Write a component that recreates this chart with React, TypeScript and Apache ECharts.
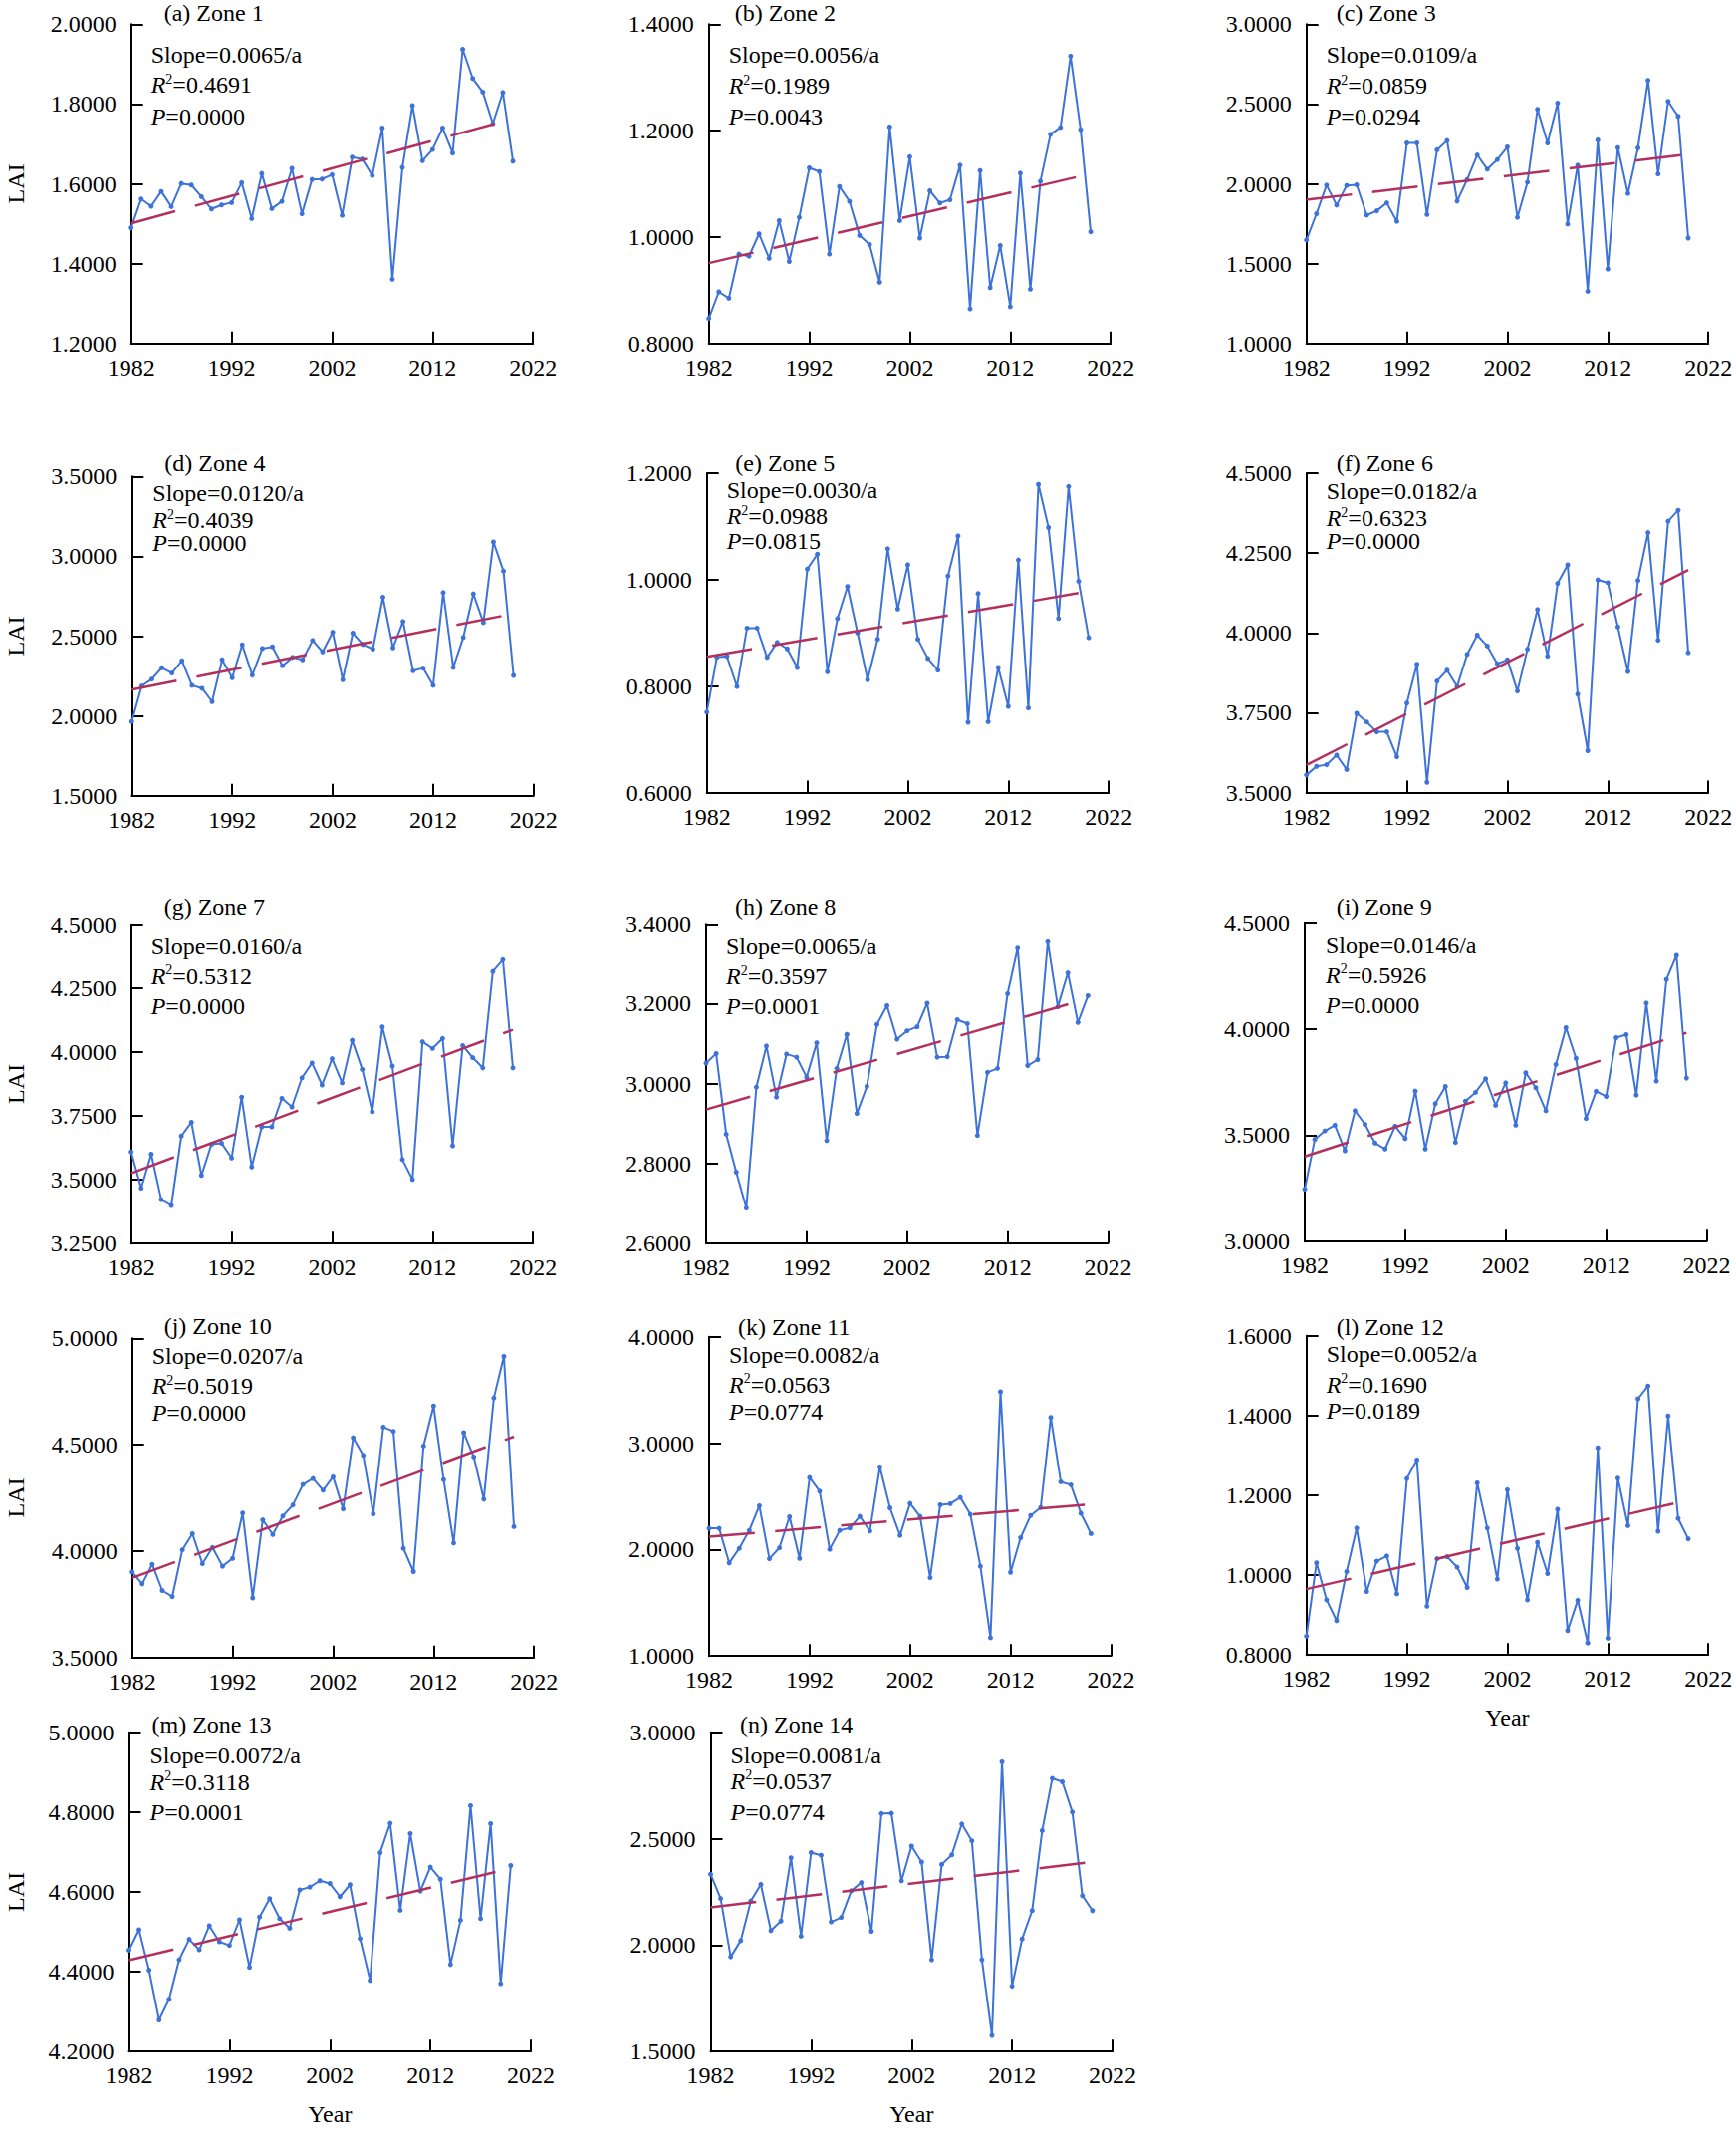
import React, { useEffect, useRef } from "react";
import * as echarts from "echarts";

// ---------------- data ----------------
const YEARS = [
  1982, 1983, 1984, 1985, 1986, 1987, 1988, 1989, 1990, 1991,
  1992, 1993, 1994, 1995, 1996, 1997, 1998, 1999, 2000, 2001,
  2002, 2003, 2004, 2005, 2006, 2007, 2008, 2009, 2010, 2011,
  2012, 2013, 2014, 2015, 2016, 2017, 2018, 2019, 2020,
];
const X_TICKS = [1982, 1992, 2002, 2012, 2022];

const ZONE_1 = [1.490,1.562,1.544,1.581,1.543,1.601,1.597,1.568,1.537,1.547,1.553,1.603,1.513,1.626,1.538,1.556,1.639,1.525,1.611,1.612,1.623,1.521,1.667,1.662,1.621,1.740,1.361,1.641,1.796,1.658,1.686,1.740,1.677,1.937,1.864,1.830,1.751,1.829,1.657];
const ZONE_2 = [0.847,0.897,0.885,0.968,0.964,1.006,0.960,1.031,0.954,1.037,1.130,1.123,0.968,1.095,1.067,1.003,0.986,0.915,1.207,1.031,1.151,0.998,1.087,1.064,1.070,1.135,0.865,1.125,0.905,0.984,0.869,1.120,0.902,1.105,1.193,1.206,1.340,1.202,1.010];
const ZONE_3 = [1.648,1.813,1.992,1.867,1.990,1.994,1.804,1.831,1.881,1.765,2.256,2.256,1.808,2.213,2.271,1.892,2.027,2.181,2.092,2.152,2.231,1.790,2.010,2.467,2.256,2.506,1.748,2.117,1.327,2.275,1.467,2.227,1.940,2.225,2.648,2.062,2.517,2.423,1.660];
const ZONE_4 = [1.965,2.188,2.231,2.302,2.269,2.346,2.192,2.173,2.090,2.352,2.240,2.446,2.256,2.423,2.433,2.315,2.367,2.352,2.473,2.402,2.525,2.227,2.519,2.448,2.419,2.744,2.427,2.592,2.283,2.300,2.192,2.773,2.304,2.492,2.765,2.585,3.090,2.908,2.254];
const ZONE_5 = [0.751,0.854,0.856,0.799,0.909,0.909,0.854,0.882,0.870,0.835,1.020,1.048,0.827,0.927,0.987,0.900,0.812,0.888,1.058,0.945,1.028,0.888,0.852,0.830,1.007,1.082,0.732,0.974,0.733,0.835,0.762,1.037,0.759,1.179,1.098,0.927,1.175,0.997,0.891];
const ZONE_6 = [3.555,3.582,3.587,3.617,3.572,3.748,3.721,3.690,3.690,3.612,3.780,3.902,3.532,3.849,3.883,3.832,3.933,3.993,3.959,3.903,3.916,3.818,3.949,4.073,3.927,4.155,4.213,3.808,3.631,4.166,4.157,4.019,3.879,4.164,4.314,3.977,4.350,4.384,3.938];
const ZONE_7 = [3.609,3.467,3.600,3.422,3.399,3.671,3.725,3.517,3.639,3.643,3.585,3.823,3.550,3.707,3.707,3.819,3.785,3.899,3.957,3.871,3.974,3.879,4.046,3.932,3.766,4.098,3.945,3.579,3.501,4.040,4.014,4.053,3.633,4.025,3.978,3.938,4.315,4.361,3.938];
const ZONE_8 = [3.051,3.075,2.873,2.778,2.688,2.991,3.094,2.966,3.074,3.066,3.016,3.102,2.857,3.038,3.123,2.925,2.993,3.148,3.195,3.111,3.132,3.142,3.201,3.066,3.067,3.160,3.150,2.870,3.028,3.038,3.225,3.339,3.045,3.060,3.355,3.192,3.277,3.153,3.220];
const ZONE_9 = [3.246,3.480,3.520,3.547,3.427,3.615,3.551,3.463,3.435,3.542,3.484,3.707,3.435,3.648,3.729,3.466,3.660,3.701,3.765,3.640,3.746,3.547,3.793,3.723,3.615,3.832,4.005,3.861,3.578,3.706,3.682,3.958,3.972,3.688,4.120,3.754,4.231,4.344,3.768];
const ZONE_10 = [3.902,3.846,3.938,3.815,3.786,4.006,4.082,3.941,4.017,3.929,3.966,4.179,3.780,4.147,4.078,4.165,4.217,4.313,4.341,4.286,4.349,4.198,4.533,4.450,4.175,4.583,4.563,4.013,3.904,4.494,4.682,4.336,4.038,4.557,4.443,4.244,4.720,4.915,4.115];
const ZONE_11 = [2.199,2.199,1.874,2.011,2.180,2.411,1.914,2.017,2.308,1.917,2.676,2.548,2.002,2.180,2.202,2.311,2.174,2.776,2.392,2.133,2.433,2.311,1.736,2.420,2.430,2.489,2.330,1.843,1.171,3.482,1.786,2.111,2.320,2.395,3.241,2.636,2.608,2.339,2.149];
const ZONE_12 = [0.847,1.031,0.938,0.886,1.009,1.118,0.959,1.035,1.048,0.953,1.242,1.289,0.922,1.041,1.046,1.020,0.969,1.231,1.118,0.990,1.214,1.067,0.938,1.082,1.004,1.165,0.861,0.937,0.830,1.319,0.842,1.243,1.124,1.442,1.474,1.110,1.399,1.142,1.091];
const ZONE_13 = [4.454,4.505,4.404,4.279,4.331,4.430,4.481,4.455,4.515,4.475,4.466,4.530,4.411,4.537,4.583,4.533,4.509,4.605,4.612,4.628,4.621,4.588,4.618,4.483,4.378,4.698,4.772,4.554,4.746,4.602,4.662,4.632,4.418,4.529,4.816,4.533,4.771,4.370,4.666];
const ZONE_14 = [2.333,2.219,1.945,2.021,2.207,2.285,2.068,2.113,2.410,2.042,2.435,2.422,2.109,2.130,2.255,2.294,2.065,2.618,2.619,2.302,2.465,2.390,1.931,2.379,2.424,2.569,2.490,1.931,1.576,2.861,1.807,2.029,2.162,2.538,2.783,2.767,2.625,2.232,2.162];

const ZONES = [ZONE_1, ZONE_2, ZONE_3, ZONE_4, ZONE_5, ZONE_6, ZONE_7, ZONE_8, ZONE_9, ZONE_10, ZONE_11, ZONE_12, ZONE_13, ZONE_14];

// trend line values at 1982 and at 2020
const TREND_1982 = [1.501, 0.951, 1.900, 2.165, 0.855, 3.586, 3.525, 2.935, 3.400, 3.874, 2.120, 0.965, 4.429, 2.177];
const TREND_2020 = [1.763, 1.119, 2.185, 2.641, 0.978, 4.197, 4.087, 3.213, 3.981, 4.538, 2.426, 1.188, 4.659, 2.391];

const TITLES = ["(a) Zone 1", "(b) Zone 2", "(c) Zone 3", "(d) Zone 4", "(e) Zone 5", "(f) Zone 6", "(g) Zone 7", "(h) Zone 8", "(i) Zone 9", "(j) Zone 10", "(k) Zone 11", "(l) Zone 12", "(m) Zone 13", "(n) Zone 14"];
const SLOPES = ["0.0065", "0.0056", "0.0109", "0.0120", "0.0030", "0.0182", "0.0160", "0.0065", "0.0146", "0.0207", "0.0082", "0.0052", "0.0072", "0.0081"];
const R2 = ["0.4691", "0.1989", "0.0859", "0.4039", "0.0988", "0.6323", "0.5312", "0.3597", "0.5926", "0.5019", "0.0563", "0.1690", "0.3118", "0.0537"];
const PVAL = ["0.0000", "0.0043", "0.0294", "0.0000", "0.0815", "0.0000", "0.0000", "0.0001", "0.0000", "0.0000", "0.0774", "0.0189", "0.0001", "0.0774"];

const Y_MIN = [1.2, 0.8, 1.0, 1.5, 0.6, 3.5, 3.25, 2.6, 3.0, 3.5, 1.0, 0.8, 4.2, 1.5];
const Y_MAX = [2.0, 1.4, 3.0, 3.5, 1.2, 4.5, 4.5, 3.4, 4.5, 5.0, 4.0, 1.6, 5.0, 3.0];
const Y_STEP = [0.2, 0.2, 0.5, 0.5, 0.2, 0.25, 0.25, 0.2, 0.5, 0.5, 1.0, 0.2, 0.2, 0.5];

// ---------------- layout ----------------
const PANEL_LEFT = [131.7, 711.7, 1311.7, 132.3, 709.7, 1311.7, 131.7, 709, 1310, 132.7, 712, 1311.7, 129.5, 713.5];
const PANEL_TOP = [24.3, 24.3, 24.3, 478.3, 475, 475, 927.7, 927.3, 925.7, 1343.3, 1341.7, 1340.7, 1738.7, 1738.7];
const PANEL_W = 403.5;
const PANEL_H = 320.5;
const TITLE_DX = [33, 26, 30, 33, 28.6, 30, 33, 29, 31.7, 32, 29, 30, 23, 29.5];
const TITLE_DY = [-11, -11, -11, -13, -10, -10, -18, -17, -16, -12, -10, -9, -8, -8];
const STAT_DX = [20, 20, 20, 21, 20, 20, 20, 20, 21, 20, 20, 20, 21, 20];
const STAT_DY = [
  [31, 61, 93], [31, 62, 93], [31, 62, 93],
  [17, 44, 67], [17, 43, 68], [18, 45, 68],
  [22, 52, 82], [23, 53, 83], [23, 53, 83],
  [18, 48, 75], [18, 48, 75], [18, 49, 75],
  [23, 50, 80], [23, 49, 80],
];
const LAI_PANELS = [0, 3, 6, 9, 12];
const YEAR_PANELS = [11, 12, 13];

const FONT = "'Liberation Serif', 'Times New Roman', serif";
const FS = 24;
const BLUE = "#3D72D8";
const RED = "#B3305E";

function buildOption() {
  const grid: any[] = [];
  const xAxis: any[] = [];
  const yAxis: any[] = [];
  const series: any[] = [];
  const graphic: any[] = [];

  ZONES.forEach((zone, i) => {
    grid.push({ left: PANEL_LEFT[i], top: PANEL_TOP[i], width: PANEL_W, height: PANEL_H, containLabel: false });
    xAxis.push({
      gridIndex: i,
      type: "value",
      min: 1982,
      max: 2022,
      axisLine: { show: true, onZero: false, lineStyle: { color: "#000", width: 2 } },
      axisTick: { show: true, inside: true, length: 12, customValues: X_TICKS, lineStyle: { color: "#000", width: 2 } },
      axisLabel: { show: true, customValues: X_TICKS, color: "#000", fontSize: FS, fontFamily: FONT, margin: 12, formatter: (v: number) => String(v) },
      splitLine: { show: false },
    });
    yAxis.push({
      gridIndex: i,
      type: "value",
      min: Y_MIN[i],
      max: Y_MAX[i],
      interval: Y_STEP[i],
      axisLine: { show: true, onZero: false, lineStyle: { color: "#000", width: 2 } },
      axisTick: { show: true, inside: true, length: 12, lineStyle: { color: "#000", width: 2 } },
      axisLabel: { show: true, color: "#000", fontSize: FS, fontFamily: FONT, margin: 15, formatter: (v: number) => v.toFixed(4) },
      splitLine: { show: false },
    });
    series.push({
      type: "line",
      xAxisIndex: i,
      yAxisIndex: i,
      data: YEARS.map((y, k) => [y, zone[k]]),
      symbol: "circle",
      symbolSize: 5,
      showSymbol: true,
      itemStyle: { color: BLUE },
      lineStyle: { color: BLUE, width: 2 },
      z: 2,
    });
    series.push({
      type: "line",
      xAxisIndex: i,
      yAxisIndex: i,
      data: [[1982, TREND_1982[i]], [2020, TREND_2020[i]]],
      symbol: "none",
      lineStyle: { color: RED, width: 2.5, type: [46, 20.5] },
      z: 3,
    });

    const L = PANEL_LEFT[i];
    const T = PANEL_TOP[i];
    graphic.push({
      type: "text",
      x: L + TITLE_DX[i],
      y: T + TITLE_DY[i],
      style: { text: TITLES[i], font: `${FS}px ${FONT}`, fill: "#000", align: "left", verticalAlign: "middle" },
    });
    const sx = L + STAT_DX[i];
    graphic.push({
      type: "text",
      x: sx,
      y: T + STAT_DY[i][0],
      style: { text: `Slope=${SLOPES[i]}/a`, font: `${FS}px ${FONT}`, fill: "#000", align: "left", verticalAlign: "middle" },
    });
    graphic.push({
      type: "text",
      x: sx,
      y: T + STAT_DY[i][1],
      style: {
        text: `{i|R}{s|2}{n|=${R2[i]}}`,
        fill: "#000",
        align: "left",
        verticalAlign: "middle",
        font: `${FS}px ${FONT}`,
        rich: {
          i: { fontFamily: FONT, fontSize: FS, fontStyle: "italic", fill: "#000", lineHeight: 26 },
          s: { fontFamily: FONT, fontSize: 14, fill: "#000", verticalAlign: "top", lineHeight: 14 },
          n: { fontFamily: FONT, fontSize: FS, fill: "#000", lineHeight: 26 },
        },
      },
    });
    graphic.push({
      type: "text",
      x: sx,
      y: T + STAT_DY[i][2],
      style: {
        text: `{i|P}{n|=${PVAL[i]}}`,
        fill: "#000",
        align: "left",
        verticalAlign: "middle",
        font: `${FS}px ${FONT}`,
        rich: {
          i: { fontFamily: FONT, fontSize: FS, fontStyle: "italic", fill: "#000" },
          n: { fontFamily: FONT, fontSize: FS, fill: "#000" },
        },
      },
    });
  });

  LAI_PANELS.forEach((i) => {
    graphic.push({
      type: "text",
      x: 16,
      y: PANEL_TOP[i] + PANEL_H / 2,
      rotation: Math.PI / 2,
      style: { text: "LAI", font: `${FS}px ${FONT}`, fill: "#000", align: "center", verticalAlign: "middle" },
    });
  });
  YEAR_PANELS.forEach((i) => {
    graphic.push({
      type: "text",
      x: PANEL_LEFT[i] + PANEL_W / 2,
      y: PANEL_TOP[i] + PANEL_H + 63,
      style: { text: "Year", font: `${FS}px ${FONT}`, fill: "#000", align: "center", verticalAlign: "middle" },
    });
  });

  return {
    animation: false,
    backgroundColor: "#fff",
    grid,
    xAxis,
    yAxis,
    series,
    graphic,
  };
}

export default function App() {
  const ref = useRef<HTMLDivElement>(null);
  useEffect(() => {
    if (!ref.current) return;
    const chart = echarts.init(ref.current, null, { renderer: "svg" });
    chart.setOption(buildOption() as any);
    return () => chart.dispose();
  }, []);
  return (
    <div
      ref={ref}
      style={{ position: "absolute", left: 0, top: 0, width: 1743, height: 2142, background: "#fff" }}
    />
  );
}
